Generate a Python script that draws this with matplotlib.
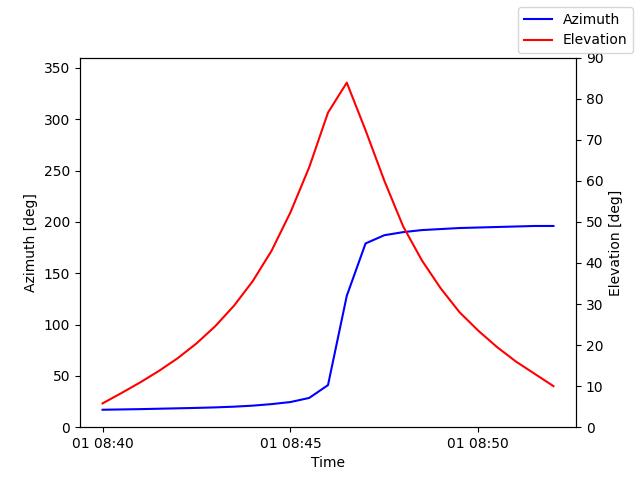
import matplotlib
matplotlib.use("Agg")
import matplotlib.pyplot as plt
import matplotlib.dates as mdates
import pandas as pd

times = pd.date_range("2024-01-01 08:40:00", periods=25, freq="30s")
azimuth = [17, 17.3, 17.6, 18, 18.4, 18.8, 19.3, 20, 21, 22.5, 24.5, 28.5, 41,
           128, 179, 187, 190, 192, 193, 194, 194.5, 195, 195.5, 196, 196]
elevation = [5.8, 8.3, 10.9, 13.7, 16.8, 20.4, 24.6, 29.6, 35.6, 43, 52.3, 63.3, 76.6,
             83.9, 72.3, 60, 48.9, 40.6, 33.8, 28, 23.5, 19.5, 16, 13, 10]

fig, ax = plt.subplots(figsize=(6.4, 4.8), dpi=100)
ax.plot(times, azimuth, color="blue", label="Azimuth")
ax.set_ylim(0, 360)
ax.set_ylabel("Azimuth [deg]")
ax.set_xlabel("Time")
ax.xaxis.set_major_formatter(mdates.DateFormatter("%d %H:%M"))
ax.xaxis.set_major_locator(mdates.MinuteLocator(byminute=[40, 45, 50]))
ax2 = ax.twinx()
ax2.plot(times, elevation, color="red", label="Elevation")
ax2.set_ylim(0, 90)
ax2.set_ylabel("Elevation [deg]")
fig.legend(loc="upper right")
fig.savefig("out.png")
